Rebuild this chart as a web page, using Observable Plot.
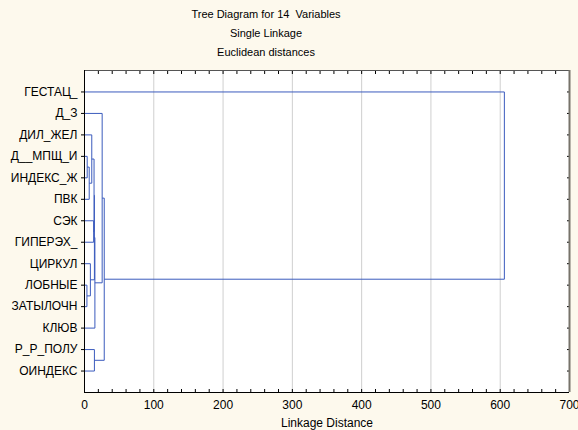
<!DOCTYPE html>
<html><head><meta charset="utf-8">
<script src="https://cdn.jsdelivr.net/npm/d3@7"></script>
<script src="https://cdn.jsdelivr.net/npm/@observablehq/plot@0.6"></script>
<style>
html,body{margin:0;padding:0;background:#fdf9ed;width:578px;height:430px;overflow:hidden;font-family:"Liberation Sans",Arial,sans-serif;}
#titles{width:532px;height:62px;padding-top:5px;box-sizing:border-box;text-align:center;font-size:11px;line-height:19px;color:#000;}
svg{display:block;}
</style></head><body>
<div id="titles"><div>Tree Diagram for 14&nbsp; Variables</div><div>Single Linkage</div><div>Euclidean distances</div></div>
<div id="chart"></div>
<script>
// Leaves, top to bottom
const variables = ["ГЕСТАЦ_","Д_З","ДИЛ_ЖЕЛ","Д__МПЩ_И","ИНДЕКС_Ж","ПВК","СЭК","ГИПЕРЭХ_","ЦИРКУЛ","ЛОБНЫЕ","ЗАТЫЛОЧН","КЛЮВ","Р_Р_ПОЛУ","ОИНДЕКС"];
// Merges (single linkage), linkage distances
const mergeIds    = ["M1","M2","M3","M4","M5","M6","M7","M8","M9","M10","M11","M12","M13"];
const mergeLeft   = ["Д__МПЩ_И","ЛОБНЫЕ","M1","ЦИРКУЛ","ДИЛ_ЖЕЛ","СЭК","Р_Р_ПОЛУ","M5","M8","M9","Д_З","M11","ГЕСТАЦ_"];
const mergeRight  = ["ИНДЕКС_Ж","ЗАТЫЛОЧН","ПВК","M2","M3","ГИПЕРЭХ_","ОИНДЕКС","M6","M4","КЛЮВ","M10","M7","M12"];
const mergeHeight = [3.9, 3.5, 6.8, 8.5, 10.5, 13.2, 14.3, 13.8, 14.3, 15, 25.5, 28.5, 606];
const xTicks = [0,100,200,300,400,500,600,700];
const xMinor = d3.range(0, 701, 20);

const pos = {};
variables.forEach((v, i) => pos[v] = {x: 0, y: i + 1});
const segs = [];
mergeIds.forEach((id, k) => {
  const a = pos[mergeLeft[k]], b = pos[mergeRight[k]], h = mergeHeight[k];
  segs.push({x1: a.x, y1: a.y, x2: h, y2: a.y});
  segs.push({x1: b.x, y1: b.y, x2: h, y2: b.y});
  segs.push({x1: h, y1: a.y, x2: h, y2: b.y});
  pos[id] = {x: h, y: (a.y + b.y) / 2};
});

const rows = d3.range(1, 15);
const chart = Plot.plot({
  width: 578, height: 368,
  marginLeft: 84, marginRight: 9, marginTop: 8, marginBottom: 38,
  style: {background: "#fdf9ed", fontFamily: "'Liberation Sans', Arial, sans-serif", fontSize: "12px", overflow: "visible"},
  x: {domain: [0, 700]},
  y: {domain: [0, 15], reverse: true},
  marks: [
    Plot.frame({fill: "white", stroke: null}),
    Plot.gridX([100,200,300,400,500,600], {stroke: "#cfcfcf", strokeOpacity: 1}),
    Plot.axisX({ticks: xTicks, tickSize: 0, tickPadding: 8, fontSize: 12, fill: "#000", label: null}),
    Plot.axisX({ticks: xMinor, tickSize: 3, dy: -3, tickFormat: () => "", label: null, stroke: "#000"}),
    Plot.axisX({anchor: "top", ticks: xMinor, tickSize: 3, dy: 3, tickFormat: () => "", label: null, stroke: "#000"}),
    Plot.axisY({ticks: rows, tickSize: 3, tickPadding: 4, fontSize: 12, fill: "#000", tickFormat: i => variables[i - 1], label: null}),
    Plot.axisY({anchor: "right", ticks: rows, tickSize: 3, dx: -3, tickFormat: () => "", label: null, stroke: "#000"}),
    Plot.link(segs, {x1: "x1", y1: "y1", x2: "x2", y2: "y2", stroke: "#3b5bbd", strokeWidth: 1}),
    Plot.ruleY([0], {stroke: "#555"}),
    Plot.ruleX([700], {stroke: "#77736a", strokeWidth: 2}),
    Plot.ruleX([0], {stroke: "#000"}),
    Plot.ruleY([15], {stroke: "#000"}),
    Plot.text(["Linkage Distance"], {frameAnchor: "bottom", dy: 31, lineAnchor: "middle", fontSize: 12, fill: "#000"})
  ]
});
document.getElementById("chart").appendChild(chart);
</script>
</body></html>
